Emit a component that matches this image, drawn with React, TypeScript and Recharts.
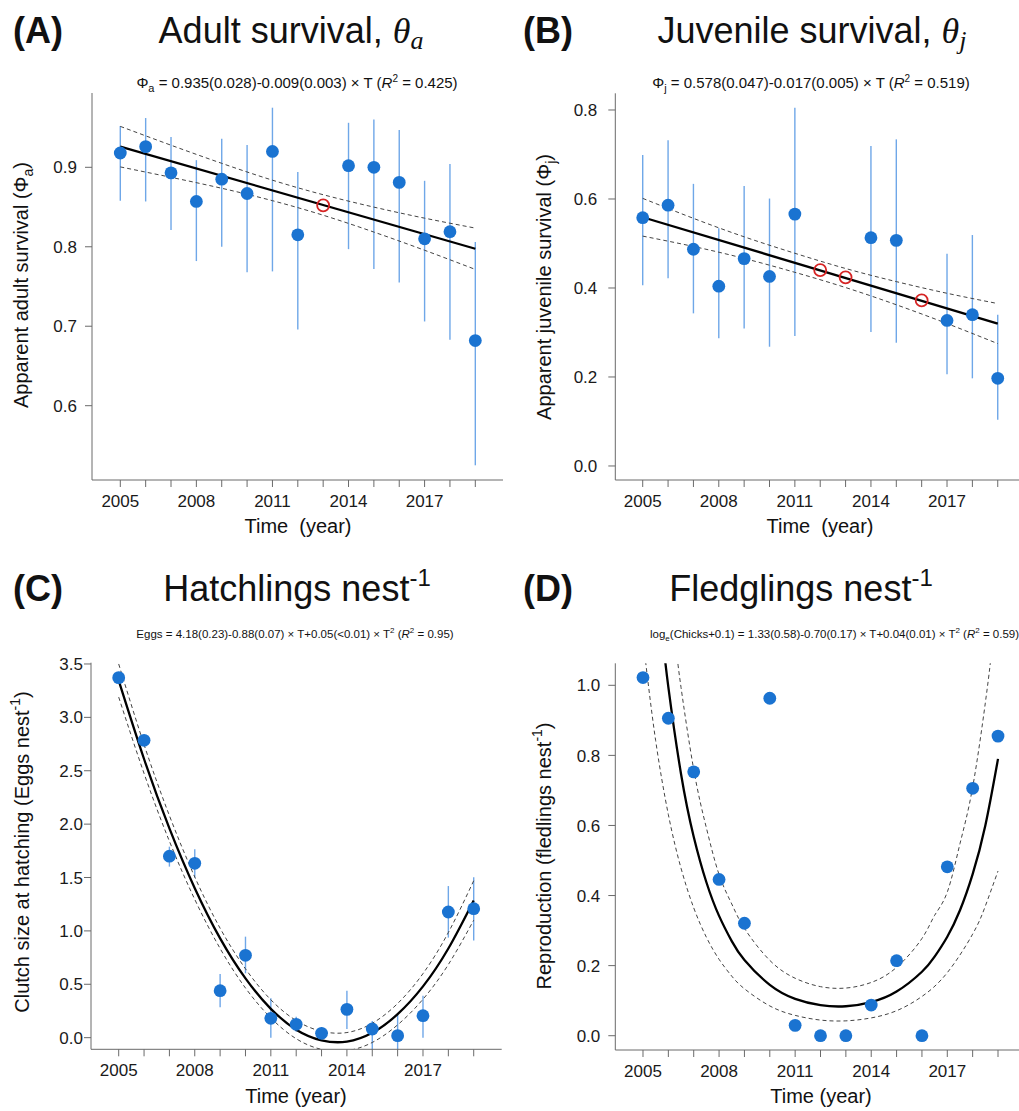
import React from "react";
import { ComposedChart, Scatter, Line, XAxis, YAxis, ErrorBar } from "recharts";

const SANS = "'Liberation Sans', Arial, Helvetica, sans-serif";
const SERIF = "'Liberation Serif', 'Times New Roman', serif";

const DOT = "#1a73d1";
const CI = "#6fa7e8";
const RED = "#d62424";
const AXIS = "#6a6a6a";

const years = [2005, 2006, 2007, 2008, 2009, 2010, 2011, 2012, 2013, 2014, 2015, 2016, 2017, 2018, 2019];
const xTickLabels = [2005, 2008, 2011, 2014, 2017];

// (A) adult survival
const adultYears = [2005, 2006, 2007, 2008, 2009, 2010, 2011, 2012, 2014, 2015, 2016, 2017, 2018, 2019];
const adultEst = [0.918, 0.926, 0.893, 0.857, 0.885, 0.867, 0.92, 0.815, 0.902, 0.9, 0.881, 0.81, 0.819, 0.682];
const adultLow = [0.858, 0.857, 0.821, 0.782, 0.8, 0.768, 0.769, 0.696, 0.797, 0.772, 0.755, 0.706, 0.683, 0.525];
const adultHigh = [0.952, 0.962, 0.938, 0.909, 0.936, 0.928, 0.975, 0.894, 0.956, 0.96, 0.947, 0.883, 0.904, 0.806];
const adultImpYears = [2013];
const adultImp = [0.852];
const adultFitYears = [2005, 2019];
const adultFit = [0.926, 0.7975];
const adultBandYears = [2005, 2007, 2009, 2011, 2013, 2015, 2017, 2019];
const adultUpper = [0.9515, 0.9278, 0.905, 0.8838, 0.8655, 0.8499, 0.836, 0.8235];
const adultLower = [0.9005, 0.8874, 0.8736, 0.858, 0.8397, 0.8185, 0.7956, 0.7715];
const adultYTicks = [0.6, 0.7, 0.8, 0.9];

// (B) juvenile survival
const juvYears = [2005, 2006, 2007, 2008, 2009, 2010, 2011, 2014, 2015, 2017, 2018, 2019];
const juvEst = [0.558, 0.586, 0.487, 0.404, 0.466, 0.426, 0.566, 0.513, 0.507, 0.327, 0.34, 0.197];
const juvLow = [0.406, 0.422, 0.343, 0.287, 0.309, 0.268, 0.292, 0.301, 0.277, 0.206, 0.197, 0.104];
const juvHigh = [0.699, 0.732, 0.634, 0.534, 0.629, 0.601, 0.805, 0.719, 0.734, 0.477, 0.519, 0.34];
const juvImpYears = [2012, 2013, 2016];
const juvImp = [0.44, 0.424, 0.372];
const juvFitYears = [2005, 2019];
const juvFit = [0.559, 0.32];
const juvBandYears = [2005, 2007, 2009, 2011, 2013, 2015, 2017, 2019];
const juvUpper = [0.6014, 0.5565, 0.515, 0.478, 0.4438, 0.4143, 0.3881, 0.365];
const juvLower = [0.5166, 0.4933, 0.4664, 0.4352, 0.401, 0.3623, 0.3201, 0.275];
const juvYTicks = [0, 0.2, 0.4, 0.6, 0.8];

// (C) hatchlings per nest
const eggEst = [3.372, 2.785, 1.7, 1.633, 0.44, 0.771, 0.181, 0.125, 0.041, 0.265, 0.081, 0.019, 0.206, 1.177, 1.208];
const eggLow = [3.34, 2.74, 1.602, 1.499, 0.284, 0.603, 0.0, 0.056, -0.006, 0.081, -0.115, -0.115, 0.0, 0.937, 0.909];
const eggHigh = [3.4, 2.83, 1.789, 1.764, 0.596, 0.946, 0.368, 0.197, 0.1, 0.44, 0.156, 0.212, 0.393, 1.42, 1.502];
const eggFit = [3.345, 2.61, 1.96, 1.4, 0.93, 0.555, 0.27, 0.075, -0.025, -0.037, 0.045, 0.22, 0.48, 0.835, 1.285];
const eggUpper = [3.5, 2.745, 2.08, 1.505, 1.025, 0.645, 0.355, 0.16, 0.06, 0.048, 0.135, 0.32, 0.6, 0.985, 1.47];
const eggLower = [3.19, 2.475, 1.84, 1.295, 0.835, 0.465, 0.185, -0.01, -0.11, -0.122, -0.045, 0.12, 0.36, 0.685, 1.1];
const eggYTicks = [0, 0.5, 1, 1.5, 2, 2.5, 3, 3.5];

// (D) fledglings per nest
const fledEst = [1.022, 0.906, 0.753, 0.446, 0.321, 0.963, 0.0295, 0, 0, 0.0875, 0.214, 0, 0.482, 0.706, 0.855];
const fledFitYears = [2005.8, 2006, 2006.5, 2007, 2007.5, 2008, 2008.5, 2009, 2010, 2011, 2012, 2013, 2014, 2015, 2016, 2016.5, 2017, 2017.5, 2018, 2018.5, 2019];
const fledFit = [1.121, 0.995, 0.747, 0.568, 0.438, 0.342, 0.27, 0.216, 0.145, 0.105, 0.087, 0.084, 0.096, 0.126, 0.1825, 0.2256, 0.2825, 0.358, 0.461, 0.6, 0.79];
const fledUpperYears = [2006.35, 2006.5, 2007, 2007.5, 2008, 2008.5, 2009, 2010, 2011, 2012, 2013, 2014, 2015, 2016, 2016.5, 2017, 2017.5, 2018, 2018.5, 2018.7];
const fledUpper = [1.08, 0.994, 0.76, 0.593, 0.46, 0.376, 0.3065, 0.215, 0.164, 0.14, 0.136, 0.152, 0.195, 0.2775, 0.3435, 0.41, 0.548, 0.709, 0.95, 1.066];
const fledLowerYears = [2005.1, 2005.5, 2006, 2006.5, 2007, 2007.5, 2008, 2008.5, 2009, 2010, 2011, 2012, 2013, 2014, 2015, 2016, 2017, 2018, 2018.5, 2019];
const fledLower = [1.069, 0.842, 0.631, 0.478, 0.365, 0.281, 0.218, 0.17, 0.134, 0.085, 0.058, 0.0446, 0.0424, 0.0508, 0.0713, 0.112, 0.18, 0.29, 0.37, 0.47];
const fledYTicks = [0, 0.2, 0.4, 0.6, 0.8, 1.0];

const pts = (xs: number[], ys: number[]) => xs.map((x, i) => ({ x, y: ys[i] }));
const withErr = (xs: number[], ys: number[], lo: number[], hi: number[]) =>
  xs.map((x, i) => ({ x, y: ys[i], err: [ys[i] - lo[i], hi[i] - ys[i]] }));

const BlueDot = (p: any) => <circle cx={p.cx} cy={p.cy} r={6.4} fill={DOT} />;
const RedRing = (p: any) => (
  <circle cx={p.cx} cy={p.cy} r={6} fill="none" stroke={RED} strokeWidth={1.8} />
);

const XTick = (p: any) => {
  const v = p.payload.value;
  if (!xTickLabels.includes(v)) return <g />;
  return (
    <text x={p.x} y={p.y + 20} textAnchor="middle" fontSize={17} fontFamily={SANS} fill="#1a1a1a">
      {v}
    </text>
  );
};

const makeYTick = (gap: number) => (p: any) => (
  <text x={p.x - gap} y={p.y} dy="0.36em" textAnchor="end" fontSize={17} fontFamily={SANS} fill="#1a1a1a">
    {Number(p.payload.value).toFixed(1)}
  </text>
);

type PanelProps = {
  left: number;
  top: number;
  width: number;
  height: number;
  marginTop: number;
  marginRight: number;
  yWidth: number;
  xHeight: number;
  xDomain: [number, number];
  yDomain: [number, number];
  yTicks: number[];
  yGap: number;
  obs: any[];
  hasErr: boolean;
  imputed?: any[];
  fit: any[];
  upper: any[];
  lower: any[];
  curve: "linear" | "natural" | "monotone";
};

function Panel(p: PanelProps) {
  return (
    <ComposedChart
      width={p.width}
      height={p.height}
      margin={{ top: p.marginTop, right: p.marginRight, left: 0, bottom: 0 }}
      style={{ position: "absolute", left: p.left, top: p.top }}
    >
      <XAxis
        type="number"
        dataKey="x"
        domain={p.xDomain}
        allowDataOverflow
        ticks={years}
        interval={0}
        height={p.xHeight}
        tickSize={7}
        tickMargin={0}
        stroke={AXIS}
        tick={XTick}
      />
      <YAxis
        type="number"
        dataKey="y"
        domain={p.yDomain}
        allowDataOverflow
        ticks={p.yTicks}
        interval={0}
        width={p.yWidth}
        tickSize={7}
        tickMargin={0}
        stroke={AXIS}
        tick={makeYTick(p.yGap)}
      />
      <Scatter data={p.obs} dataKey="y" fill={DOT} shape={BlueDot} isAnimationActive={false}>
        {p.hasErr && (
          <ErrorBar dataKey="err" direction="y" width={0} stroke={CI} strokeWidth={1.4} />
        )}
      </Scatter>
      <Line data={p.upper} dataKey="y" type={p.curve} stroke="#444" strokeWidth={1} strokeDasharray="4 3" dot={false} activeDot={false} isAnimationActive={false} />
      <Line data={p.lower} dataKey="y" type={p.curve} stroke="#444" strokeWidth={1} strokeDasharray="4 3" dot={false} activeDot={false} isAnimationActive={false} />
      <Line data={p.fit} dataKey="y" type={p.curve} stroke="#000" strokeWidth={2.3} dot={false} activeDot={false} isAnimationActive={false} />
      {p.imputed && (
        <Scatter data={p.imputed} dataKey="y" fill="none" shape={RedRing} isAnimationActive={false} />
      )}
    </ComposedChart>
  );
}

function Labels() {
  return (
    <svg
      width={1019}
      height={1111}
      style={{ position: "absolute", left: 0, top: 0, pointerEvents: "none" }}
      fontFamily={SANS}
      fill="#111"
    >
      {/* panel letters */}
      <text x={13} y={43} fontSize={36} fontWeight="bold">(A)</text>
      <text x={523} y={43} fontSize={36} fontWeight="bold">(B)</text>
      <text x={13} y={601} fontSize={36} fontWeight="bold">(C)</text>
      <text x={523} y={601} fontSize={36} fontWeight="bold">(D)</text>

      {/* titles */}
      <text x={291} y={43} fontSize={36} textAnchor="middle">
        {"Adult survival, "}
        <tspan fontFamily={SERIF} fontStyle="italic">θ</tspan>
        <tspan fontFamily={SERIF} fontStyle="italic" fontSize={26} dy={6}>a</tspan>
      </text>
      <text x={812} y={43} fontSize={36} textAnchor="middle">
        {"Juvenile survival, "}
        <tspan fontFamily={SERIF} fontStyle="italic">θ</tspan>
        <tspan fontFamily={SERIF} fontStyle="italic" fontSize={26} dy={6}>j</tspan>
      </text>
      <text x={297} y={601} fontSize={36} textAnchor="middle">
        {"Hatchlings nest"}
        <tspan fontSize={24} dy={-15}>-1</tspan>
      </text>
      <text x={801} y={601} fontSize={36} textAnchor="middle">
        {"Fledglings nest"}
        <tspan fontSize={24} dy={-15}>-1</tspan>
      </text>

      {/* fitted equations */}
      <text x={297} y={88} fontSize={15} textAnchor="middle">
        {"Φ"}
        <tspan fontSize={11} dy={4}>a</tspan>
        <tspan dy={-4}>{" = 0.935(0.028)-0.009(0.003) × T ("}</tspan>
        <tspan fontStyle="italic">R</tspan>
        <tspan fontSize={10} dy={-6}>2</tspan>
        <tspan dy={6}>{" = 0.425)"}</tspan>
      </text>
      <text x={811} y={88} fontSize={15} textAnchor="middle">
        {"Φ"}
        <tspan fontSize={11} dy={4}>j</tspan>
        <tspan dy={-4}>{" = 0.578(0.047)-0.017(0.005) × T ("}</tspan>
        <tspan fontStyle="italic">R</tspan>
        <tspan fontSize={10} dy={-6}>2</tspan>
        <tspan dy={6}>{" = 0.519)"}</tspan>
      </text>
      <text x={295} y={638} fontSize={11.5} textAnchor="middle">
        {"Eggs = 4.18(0.23)-0.88(0.07) × T+0.05(<0.01) × T"}
        <tspan fontSize={8} dy={-5}>2</tspan>
        <tspan dy={5}>{" ("}</tspan>
        <tspan fontStyle="italic">R</tspan>
        <tspan fontSize={8} dy={-5}>2</tspan>
        <tspan dy={5}>{" = 0.95)"}</tspan>
      </text>
      <text x={650} y={638} fontSize={11.5}>
        {"log"}
        <tspan fontSize={8} dy={3}>e</tspan>
        <tspan dy={-3}>{"(Chicks+0.1) = 1.33(0.58)-0.70(0.17) × T+0.04(0.01) × T"}</tspan>
        <tspan fontSize={8} dy={-5}>2</tspan>
        <tspan dy={5}>{" ("}</tspan>
        <tspan fontStyle="italic">R</tspan>
        <tspan fontSize={8} dy={-5}>2</tspan>
        <tspan dy={5}>{" = 0.59)"}</tspan>
      </text>

      {/* y axis titles */}
      <text x={28} y={285} fontSize={20} textAnchor="middle" transform="rotate(-90 28 285)">
        {"Apparent adult survival (Φ"}
        <tspan fontSize={14} dy={5}>a</tspan>
        <tspan dy={-5}>)</tspan>
      </text>
      <text x={551} y={287} fontSize={20} textAnchor="middle" transform="rotate(-90 551 287)">
        {"Apparent juvenile survival (Φ"}
        <tspan fontSize={14} dy={5}>j</tspan>
        <tspan dy={-5}>)</tspan>
      </text>
      <text x={29} y={852} fontSize={20} textAnchor="middle" transform="rotate(-90 29 852)">
        {"Clutch size at hatching (Eggs nest"}
        <tspan fontSize={14} dy={-9}>-1</tspan>
        <tspan dy={9}>)</tspan>
      </text>
      <text x={551} y={856} fontSize={20} textAnchor="middle" transform="rotate(-90 551 856)">
        {"Reproduction (fledlings nest"}
        <tspan fontSize={14} dy={-9}>-1</tspan>
        <tspan dy={9}>)</tspan>
      </text>

      {/* x axis titles */}
      <text x={298} y={533} fontSize={20} textAnchor="middle" style={{ whiteSpace: "pre" }}>
        {"Time  (year)"}
      </text>
      <text x={820} y={533} fontSize={20} textAnchor="middle" style={{ whiteSpace: "pre" }}>
        {"Time  (year)"}
      </text>
      <text x={296} y={1103} fontSize={20} textAnchor="middle">Time (year)</text>
      <text x={821} y={1103} fontSize={20} textAnchor="middle">Time (year)</text>
    </svg>
  );
}

export default function App() {
  return (
    <div
      style={{
        position: "fixed",
        left: 0,
        top: 0,
        width: 1019,
        height: 1111,
        overflow: "hidden",
        background: "#fff",
      }}
    >
      <Panel
        left={0}
        top={0}
        width={510}
        height={555}
        marginTop={93}
        marginRight={7}
        yWidth={92}
        xHeight={75}
        xDomain={[2003.884, 2020.092]}
        yDomain={[0.5065, 0.9935]}
        yTicks={adultYTicks}
        yGap={8}
        obs={withErr(adultYears, adultEst, adultLow, adultHigh)}
        hasErr
        imputed={pts(adultImpYears, adultImp)}
        fit={pts(adultFitYears, adultFit)}
        upper={pts(adultBandYears, adultUpper)}
        lower={pts(adultBandYears, adultLower)}
        curve="natural"
      />
      <Panel
        left={510}
        top={0}
        width={520}
        height={555}
        marginTop={93.3}
        marginRight={4.7}
        yWidth={105.3}
        xHeight={75}
        xDomain={[2003.919, 2020.087]}
        yDomain={[-0.0315, 0.8375]}
        yTicks={juvYTicks}
        yGap={11}
        obs={withErr(juvYears, juvEst, juvLow, juvHigh)}
        hasErr
        imputed={pts(juvImpYears, juvImp)}
        fit={pts(juvFitYears, juvFit)}
        upper={pts(juvBandYears, juvUpper)}
        lower={pts(juvBandYears, juvLower)}
        curve="natural"
      />
      <Panel
        left={0}
        top={555}
        width={510}
        height={556}
        marginTop={107.7}
        marginRight={8.3}
        yWidth={91}
        xHeight={61.7}
        xDomain={[2003.908, 2020.104]}
        yDomain={[-0.109, 3.512]}
        yTicks={eggYTicks}
        yGap={1}
        obs={withErr(years, eggEst, eggLow, eggHigh)}
        hasErr
        fit={pts(years, eggFit)}
        upper={pts(years, eggUpper)}
        lower={pts(years, eggLower)}
        curve="natural"
      />
      <Panel
        left={510}
        top={555}
        width={520}
        height={556}
        marginTop={108.3}
        marginRight={4.7}
        yWidth={105.3}
        xHeight={61}
        xDomain={[2003.908, 2020.076]}
        yDomain={[-0.0408, 1.0628]}
        yTicks={fledYTicks}
        yGap={8}
        obs={pts(years, fledEst)}
        hasErr={false}
        fit={pts(fledFitYears, fledFit)}
        upper={pts(fledUpperYears, fledUpper)}
        lower={pts(fledLowerYears, fledLower)}
        curve="natural"
      />
      <Labels />
    </div>
  );
}
